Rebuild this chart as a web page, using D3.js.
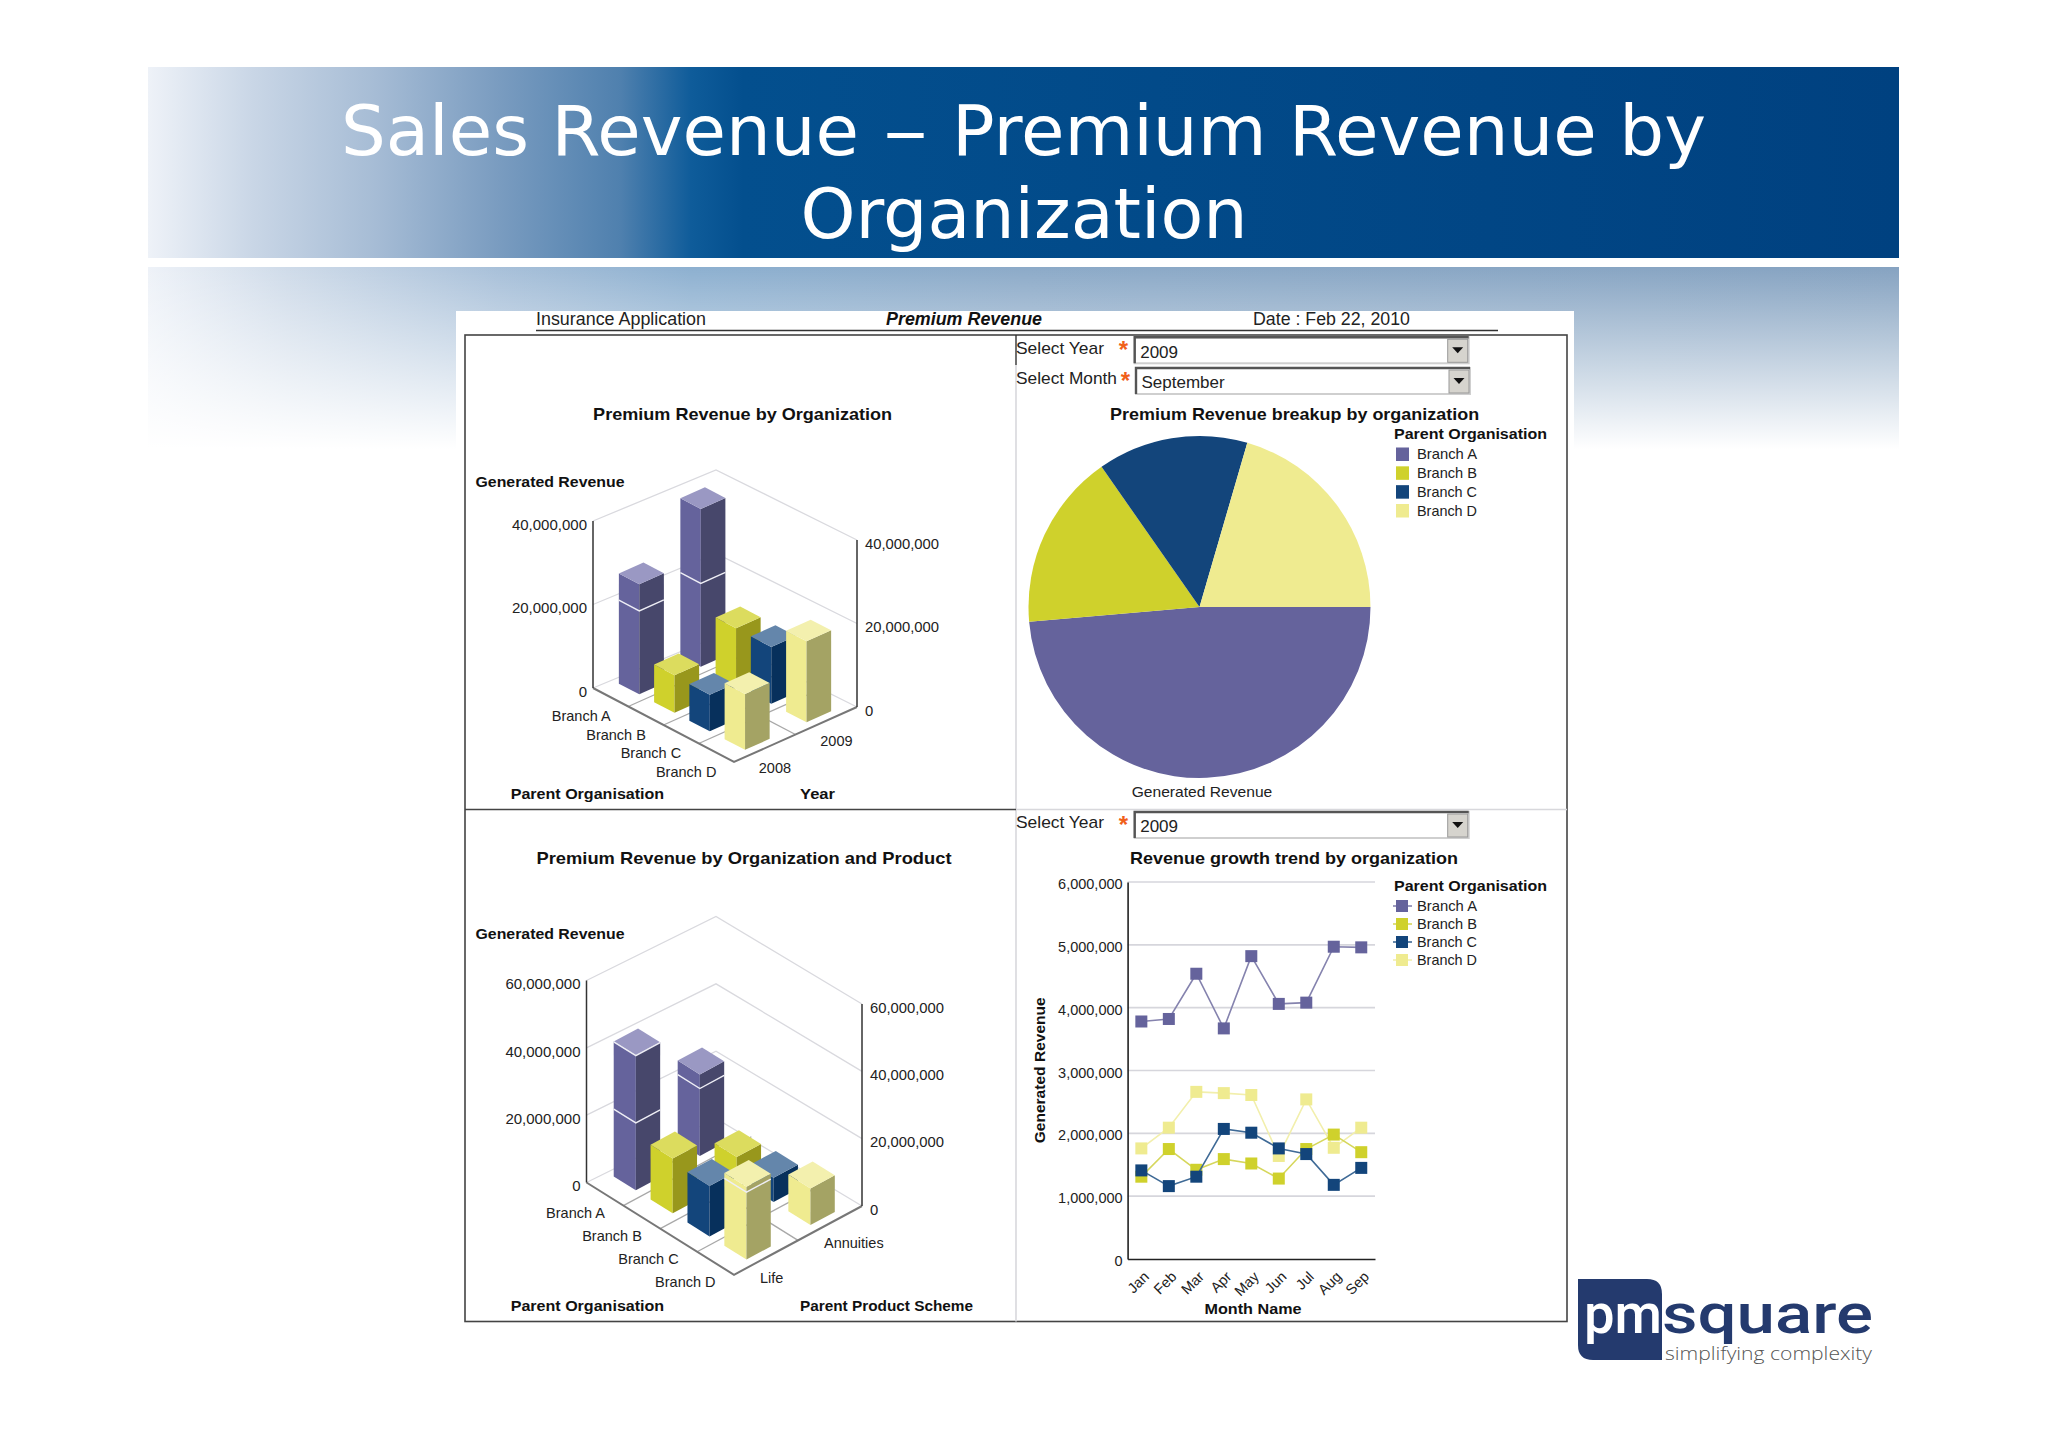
<!DOCTYPE html>
<html>
<head>
<meta charset="utf-8">
<script src="https://cdn.jsdelivr.net/npm/d3@7"></script>
<style>
  body { margin: 0; background: #fff; }
  text { font-family: "Liberation Sans", Arial, sans-serif; fill: #222; }
  .bold { font-weight: bold; fill: #111; }
</style>
</head>
<body>
<div id="slide"></div>
<script>
// Chart values
var branches = ["Branch A", "Branch B", "Branch C", "Branch D"];
var years = ["2008", "2009"];
var schemes = ["Life", "Annuities"];
var months = ["Jan", "Feb", "Mar", "Apr", "May", "Jun", "Jul", "Aug", "Sep"];

// millions, one value per branch
var revenue2008 = [26.4, 9.0, 8.8, 13.4];
var revenue2009 = [37.8, 13.7, 13.6, 19.4];
var revenueLife = [40.1, 16.3, 15.0, 21.6];
var revenueAnnuities = [24.2, 6.5, 7.2, 10.9];

var monthlyA = [3780000, 3820000, 4540000, 3670000, 4820000, 4060000, 4080000, 4970000, 4960000];
var monthlyB = [1310000, 1750000, 1420000, 1590000, 1520000, 1280000, 1750000, 1980000, 1700000];
var monthlyC = [1410000, 1160000, 1310000, 2070000, 2010000, 1760000, 1670000, 1180000, 1450000];
var monthlyD = [1760000, 2090000, 2660000, 2640000, 2610000, 1640000, 2540000, 1770000, 2090000];

var yTicks3dTop = [0, 20, 40];
var yTicks3dBottom = [0, 20, 40, 60];
var yTicksLine = [0, 1000000, 2000000, 3000000, 4000000, 5000000, 6000000];

// Branch colours: flat / left face, right face, top face
var colors = ["#65639c", "#cfd12c", "#13457b", "#efeb90"];
var rightFaces = ["#47476b", "#98971c", "#07305c", "#a4a364"];
var topFaces = ["#9a98c3", "#dcdc5e", "#6486ab", "#f3f0ae"];
var lineColors = ["#8583ae", "#d6d75c", "#3f6a96", "#f2efac"];

var svg = d3.select("#slide").append("svg")
  .attr("width", 2048)
  .attr("height", 1447)
  .style("display", "block");

var defs = svg.append("defs");

function hGradient(id, stops) {
  var g = defs.append("linearGradient").attr("id", id);
  stops.forEach(function(s) {
    g.append("stop").attr("offset", s[0]).attr("stop-color", s[1]);
  });
}

hGradient("headerGrad", [[0, "#eef2f8"], [0.06, "#c9d6e6"], [0.13, "#a6bcd5"], [0.2, "#7a9cc0"], [0.27, "#4f80ae"], [0.31, "#0f5c9a"], [0.34, "#034f8e"], [1, "#004180"]]);
hGradient("bandGrad", [[0, "#eef2f8"], [0.08, "#cfdbe9"], [0.2, "#a8c0d9"], [0.31, "#8db0d0"], [0.5, "#8caac8"], [1, "#86a3c1"]]);

var fade = defs.append("linearGradient").attr("id", "bandFade")
  .attr("x1", 0).attr("y1", 0).attr("x2", 0).attr("y2", 1);
fade.append("stop").attr("offset", 0).attr("stop-color", "#fff").attr("stop-opacity", 0);
fade.append("stop").attr("offset", 1).attr("stop-color", "#fff").attr("stop-opacity", 1);

// Slide background
svg.append("rect").attr("x", 148).attr("y", 67).attr("width", 1751).attr("height", 191).attr("fill", "url(#headerGrad)");
svg.append("rect").attr("x", 148).attr("y", 267).attr("width", 1751).attr("height", 182).attr("fill", "url(#bandGrad)");
svg.append("rect").attr("x", 148).attr("y", 267).attr("width", 1751).attr("height", 182).attr("fill", "url(#bandFade)");
svg.append("rect").attr("x", 456).attr("y", 311).attr("width", 1118).attr("height", 1025).attr("fill", "#fff");

function label(parent, str, x, y, opts) {
  opts = opts || {};
  var t = parent.append("text")
    .attr("x", x)
    .attr("y", y)
    .attr("dy", opts.dy === undefined ? "0.35em" : opts.dy)
    .attr("text-anchor", opts.anchor || "start")
    .attr("font-size", opts.size || 14.5)
    .text(str);
  if (opts.bold) t.attr("class", "bold");
  if (opts.italic) t.attr("font-style", "italic");
  if (opts.width) t.attr("textLength", opts.width).attr("lengthAdjust", "spacingAndGlyphs");
  if (opts.fill) t.style("fill", opts.fill);
  if (opts.font) t.style("font-family", opts.font);
  if (opts.rotate !== undefined) t.attr("transform", "rotate(" + opts.rotate + "," + x + "," + y + ")");
  return t;
}

// Slide title, the dash is wider in the original so the line is laid out in three runs
var titleLine = svg.append("text")
  .attr("y", 155)
  .attr("font-size", 69)
  .style("font-family", "'DejaVu Sans'")
  .style("fill", "#fff");
[["Sales Revenue", 341, 518], ["\u2013", 883, 45], ["Premium Revenue by", 952, 754]].forEach(function(run, i) {
  if (i > 0) titleLine.node().appendChild(document.createTextNode(" "));
  titleLine.append("tspan")
    .attr("x", run[1])
    .attr("textLength", run[2])
    .attr("lengthAdjust", "spacingAndGlyphs")
    .text(run[0]);
});
label(svg, "Organization", 1024, 238, {anchor: "middle", dy: 0, size: 69, fill: "#fff", font: "'DejaVu Sans'", width: 447});

// Report header
label(svg, "Insurance Application", 536, 319, {size: 17.5, width: 170});
label(svg, "Premium Revenue", 886, 319, {size: 17.5, bold: true, italic: true, width: 156});
label(svg, "Date : Feb 22, 2010", 1253, 319, {size: 17.5, width: 157});
svg.append("line").attr("x1", 536).attr("x2", 1498).attr("y1", 330.5).attr("y2", 330.5).attr("stroke", "#333").attr("stroke-width", 1.5);

// Frame and dividers
var frameBottom = 1321.5;
svg.append("rect").attr("x", 465).attr("y", 335).attr("width", 1102).attr("height", frameBottom - 335).attr("fill", "none").attr("stroke", "#444").attr("stroke-width", 1.6);
svg.append("line").attr("x1", 1016).attr("x2", 1016).attr("y1", 365).attr("y2", frameBottom).attr("stroke", "#d8d8dc").attr("stroke-width", 1.6);
svg.append("line").attr("x1", 1016).attr("x2", 1016).attr("y1", 335).attr("y2", 365).attr("stroke", "#333").attr("stroke-width", 1.4);
svg.append("line").attr("x1", 465).attr("x2", 1016).attr("y1", 809.5).attr("y2", 809.5).attr("stroke", "#444").attr("stroke-width", 1.6);
svg.append("line").attr("x1", 1016).attr("x2", 1567).attr("y1", 809.5).attr("y2", 809.5).attr("stroke", "#d8d8dc").attr("stroke-width", 1.4);

// Prompts with their drop-down boxes
function prompt(str, strWidth, value, labelY, starX, starY, boxX, boxY) {
  label(svg, str, 1016, labelY, {size: 17, width: strWidth});
  label(svg, "*", starX, starY + 7, {size: 24, bold: true, anchor: "middle", fill: "#f0601a"});
  var w = 334, h = 26;
  svg.append("rect").attr("x", boxX).attr("y", boxY).attr("width", w).attr("height", h).attr("fill", "#fff").attr("stroke", "#cfcfcf").attr("stroke-width", 2);
  svg.append("path").attr("d", d3.line()([[boxX, boxY + h], [boxX, boxY], [boxX + w, boxY]])).attr("fill", "none").attr("stroke", "#555").attr("stroke-width", 2.4);
  svg.append("rect").attr("x", boxX + w - 21).attr("y", boxY + 2).attr("width", 20).attr("height", h - 3).attr("fill", "#d6d4ce").attr("stroke", "#999").attr("stroke-width", 1);
  var cx = boxX + w - 11, cy = boxY + h / 2;
  svg.append("path").attr("d", d3.line()([[cx - 5.5, cy - 3], [cx + 5.5, cy - 3], [cx, cy + 3]]) + "Z").attr("fill", "#111");
  label(svg, value, boxX + 5.5, boxY + 14.5, {size: 17});
}
prompt("Select Year", 88, "2009", 348, 1123.5, 343, 1134.7, 337.3);
prompt("Select Month", 101, "September", 378, 1125.5, 374, 1136, 368);
prompt("Select Year", 88, "2009", 822, 1123.5, 818, 1134.7, 812);

// 3D bar chart: floor corners come in as pixel anchors, everything else through scales
function bars3d(cfg) {
  var g = svg.append("g");
  var left = cfg.left, front = cfg.front, right = cfg.right, back = cfg.back;
  var ux = front[0] - left[0], uy = front[1] - left[1];
  var vx = right[0] - front[0], vy = right[1] - front[1];

  var catScale = d3.scaleBand().domain(branches).range([0, 1]).paddingInner(cfg.catPad).paddingOuter(cfg.catPad / 2);
  var depthScale = d3.scaleBand().domain(cfg.depths).range([0, 1]).paddingInner(cfg.depthPad).paddingOuter(cfg.depthPad / 2);
  var hScale = d3.scaleLinear().domain([0, cfg.max]).range([0, cfg.height]);

  function project(c, s, v) {
    return [left[0] + c * ux + s * vx, left[1] + c * uy + s * vy - hScale(v)];
  }

  var lineFn = d3.line();

  // Walls
  cfg.ticks.forEach(function(t) {
    g.append("path")
      .attr("d", lineFn([project(0, 0, t), [back[0], back[1] - hScale(t)], project(1, 1, t)]))
      .attr("fill", "none").attr("stroke", "#d9d9de").attr("stroke-width", 1.3);
  });

  // Floor grid
  d3.range(1, branches.length).forEach(function(i) {
    var c = i / branches.length;
    g.append("path").attr("d", lineFn([project(c, 0, 0), project(c, 1, 0)])).attr("stroke", "#a8a8a8").attr("stroke-width", 1.3);
  });
  d3.range(1, cfg.depths.length).forEach(function(i) {
    var s = i / cfg.depths.length;
    g.append("path").attr("d", lineFn([project(0, s, 0), project(1, s, 0)])).attr("stroke", "#a8a8a8").attr("stroke-width", 1.3);
  });
  g.append("path").attr("d", lineFn([project(0, 0, 0), project(1, 0, 0), project(1, 1, 0)]))
    .attr("fill", "none").attr("stroke", "#777").attr("stroke-width", 2);

  // Vertical axes
  var axisTop = cfg.ticks[cfg.ticks.length - 1];
  g.append("path").attr("d", lineFn([project(0, 0, 0), project(0, 0, axisTop)])).attr("stroke", "#333").attr("stroke-width", 1.5);
  g.append("path").attr("d", lineFn([project(1, 1, 0), project(1, 1, axisTop)])).attr("stroke", "#333").attr("stroke-width", 1.5);

  // Bars, back to front
  var cells = [];
  branches.forEach(function(b, bi) {
    cfg.depths.forEach(function(d, di) {
      cells.push({branch: b, bi: bi, depth: d, value: cfg.series[di][bi]});
    });
  });
  cells.sort(function(a, b) {
    return (catScale(a.branch) - depthScale(a.depth)) - (catScale(b.branch) - depthScale(b.depth));
  });

  cells.forEach(function(d) {
    var c0 = catScale(d.branch), c1 = c0 + catScale.bandwidth();
    var s0 = depthScale(d.depth), s1 = s0 + depthScale.bandwidth();
    var bar = g.append("g");
    bar.append("path")
      .attr("d", lineFn([project(c0, s0, 0), project(c1, s0, 0), project(c1, s0, d.value), project(c0, s0, d.value)]) + "Z")
      .attr("fill", colors[d.bi]);
    bar.append("path")
      .attr("d", lineFn([project(c1, s0, 0), project(c1, s1, 0), project(c1, s1, d.value), project(c1, s0, d.value)]) + "Z")
      .attr("fill", rightFaces[d.bi]);
    bar.append("path")
      .attr("d", lineFn([project(c0, s0, d.value), project(c1, s0, d.value), project(c1, s1, d.value), project(c0, s1, d.value)]) + "Z")
      .attr("fill", topFaces[d.bi]);
    // gridline carried across the bar
    cfg.ticks.filter(function(t) { return t > 0 && t < d.value; }).forEach(function(t) {
      bar.append("path")
        .attr("d", lineFn([project(c0, s0, t), project(c1, s0, t), project(c1, s1, t)]))
        .attr("fill", "none").attr("stroke", "#eeeef5").attr("stroke-width", 1.4);
    });
  });

  // Value labels
  var fmt = d3.format(",");
  cfg.ticks.forEach(function(t) {
    var a = project(0, 0, t), b = project(1, 1, t);
    label(g, fmt(t * 1000000), a[0] - 6, a[1] + 3.5, {anchor: "end", size: 15});
    label(g, fmt(t * 1000000), b[0] + 8, b[1] + 3.5, {size: 14.8});
  });

  // Category labels
  branches.forEach(function(b) {
    var p = project(catScale(b) + catScale.bandwidth() / 2, 0, 0);
    label(g, b, p[0], p[1] + 19, {anchor: "end"});
  });
  cfg.depths.forEach(function(d) {
    var p = project(1, depthScale(d) + depthScale.bandwidth() / 2, 0);
    label(g, d, p[0] - 6, p[1] + 20);
  });

  label(g, "Generated Revenue", 475.5, cfg.titleY, {bold: true, size: 14, width: 149});
  label(g, "Parent Organisation", 510.7, cfg.axisY, {bold: true, size: 14, width: 153.5});
  label(g, cfg.depthTitle, 800, cfg.axisY, {bold: true, size: 14, width: cfg.depthTitleWidth});
  label(g, cfg.title, cfg.titleX, cfg.chartTitleY, {bold: true, size: 17, anchor: "middle", width: cfg.titleWidth});
}

bars3d({
  left: [593, 688], front: [734, 762], right: [857, 707], back: [716, 637],
  height: 167, max: 40, ticks: yTicks3dTop,
  depths: years, series: [revenue2008, revenue2009],
  catPad: 0.42, depthPad: 0.6,
  title: "Premium Revenue by Organization", titleX: 742.6, chartTitleY: 414, titleWidth: 299,
  titleY: 482, axisY: 794, depthTitle: "Year", depthTitleWidth: 35
});

bars3d({
  left: [586.5, 1182.5], front: [734, 1274.8], right: [862, 1206], back: [716, 1118.5],
  height: 202, max: 60, ticks: yTicks3dBottom,
  depths: schemes, series: [revenueLife, revenueAnnuities],
  catPad: 0.4, depthPad: 0.62,
  title: "Premium Revenue by Organization and Product", titleX: 744, chartTitleY: 858, titleWidth: 415,
  titleY: 933.7, axisY: 1306.3, depthTitle: "Parent Product Scheme", depthTitleWidth: 173
});

// Pie: September revenue per branch
var septemberValues = [monthlyA, monthlyB, monthlyC, monthlyD].map(function(s) { return s[s.length - 1]; });
var pie = d3.pie().sort(null).startAngle(Math.PI / 2).endAngle(Math.PI / 2 + 2 * Math.PI);
var arc = d3.arc().innerRadius(0).outerRadius(171);
var pieGroup = svg.append("g").attr("transform", "translate(1199.5,607)");
pieGroup.selectAll("path")
  .data(pie(septemberValues))
  .enter()
  .append("path")
  .attr("d", arc)
  .attr("fill", function(d, i) { return colors[i]; });
label(svg, "Generated Revenue", 1202, 792, {anchor: "middle", size: 15, width: 140.6});
label(svg, "Premium Revenue breakup by organization", 1294.6, 414, {anchor: "middle", bold: true, size: 17, width: 369});

// Pie legend
var pieLegendY = d3.scalePoint().domain(branches).range([454, 510.5]);
label(svg, "Parent Organisation", 1394, 434, {bold: true, size: 14, width: 153});
branches.forEach(function(b, i) {
  svg.append("rect").attr("x", 1396).attr("y", pieLegendY(b) - 6.5).attr("width", 13).attr("height", 13.5).attr("fill", colors[i]);
  label(svg, b, 1417, pieLegendY(b), {width: 60});
});

// Line chart
var xLine = d3.scaleBand().domain(months).range([1127.6, 1375]);
var yLine = d3.scaleLinear().domain([0, 6000000]).range([1259, 882]);
var lineGroup = svg.append("g");

yTicksLine.slice(1).forEach(function(t) {
  lineGroup.append("line").attr("x1", xLine.range()[0]).attr("x2", xLine.range()[1])
    .attr("y1", yLine(t)).attr("y2", yLine(t)).attr("stroke", "#d6d6dc").attr("stroke-width", 1.6);
});

var leftAxis = d3.axisLeft(yLine).tickValues(yTicksLine).tickFormat(d3.format(",")).tickSize(0).tickPadding(5);
var axisLeftG = lineGroup.append("g").attr("transform", "translate(" + xLine.range()[0] + ",0)").call(leftAxis);
axisLeftG.select(".domain").attr("stroke", "#222").attr("stroke-width", 1.6);
axisLeftG.selectAll("text").attr("font-size", 14.5).attr("y", 2);

var bottomAxis = d3.axisBottom(xLine).tickSize(0);
var axisBottomG = lineGroup.append("g").attr("transform", "translate(0," + yLine(0) + ")").call(bottomAxis);
axisBottomG.select(".domain").attr("stroke", "#222").attr("stroke-width", 1.6);
axisBottomG.selectAll("text")
  .attr("font-size", 14.5)
  .attr("text-anchor", "end")
  .attr("x", 0)
  .attr("y", 0)
  .attr("dy", "0.35em")
  .attr("transform", "translate(5,15) rotate(-45)");

var monthlySeries = [monthlyA, monthlyB, monthlyC, monthlyD];
var drawOrder = [0, 3, 1, 2];
var lineFn = d3.line()
  .x(function(d, i) { return xLine(months[i]) + xLine.bandwidth() / 2; })
  .y(function(d) { return yLine(d); });

drawOrder.forEach(function(si) {
  var sg = lineGroup.append("g");
  sg.append("path").attr("d", lineFn(monthlySeries[si])).attr("fill", "none").attr("stroke", lineColors[si]).attr("stroke-width", 1.6);
  sg.selectAll("rect").data(monthlySeries[si]).enter().append("rect")
    .attr("x", function(d, i) { return xLine(months[i]) + xLine.bandwidth() / 2 - 6; })
    .attr("y", function(d) { return yLine(d) - 6; })
    .attr("width", 12).attr("height", 12)
    .attr("fill", colors[si]);
});

label(svg, "Revenue growth trend by organization", 1294, 858, {anchor: "middle", bold: true, size: 17, width: 328});
label(svg, "Generated Revenue", 1040, 1070.3, {anchor: "middle", bold: true, size: 14, width: 146, rotate: -90});
label(svg, "Month Name", 1253, 1308.6, {anchor: "middle", bold: true, size: 14, width: 97});

// Line legend
var lineLegendY = d3.scalePoint().domain(branches).range([906, 960]);
label(svg, "Parent Organisation", 1394, 886, {bold: true, size: 14, width: 153});
branches.forEach(function(b, i) {
  var y = lineLegendY(b);
  svg.append("line").attr("x1", 1393).attr("x2", 1412).attr("y1", y).attr("y2", y).attr("stroke", lineColors[i]).attr("stroke-width", 1.6);
  svg.append("rect").attr("x", 1396).attr("y", y - 6).attr("width", 12).attr("height", 12).attr("fill", colors[i]);
  label(svg, b, 1417, y, {width: 60});
});

// Logo
var logo = svg.append("g");
logo.append("path")
  .attr("d", "M1578,1279 H1647 Q1662,1279 1662,1294 V1360 H1593 Q1578,1360 1578,1345 Z")
  .attr("fill", "#243a6e");
label(logo, "pm", 1584, 1333, {dy: 0, size: 56, width: 78, fill: "#fff", font: "Roboto"}).style("font-weight", 500);
label(logo, "square", 1662, 1333, {dy: 0, size: 56, width: 211, fill: "#243a6e", font: "Roboto"}).style("font-weight", 500);
label(logo, "simplifying complexity", 1665, 1360, {dy: 0, size: 19, width: 207, fill: "#555", font: "'Open Sans'"}).style("font-weight", 300);
</script>
</body>
</html>
